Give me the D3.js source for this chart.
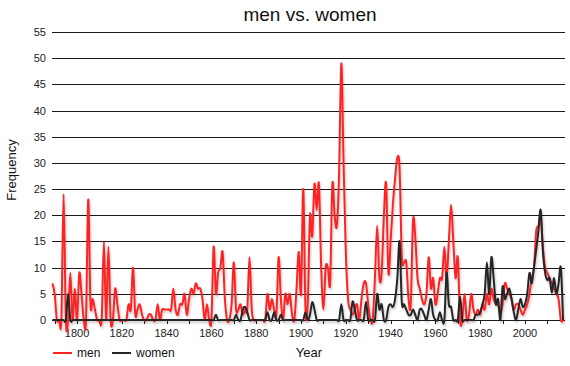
<!DOCTYPE html>
<html>
<head>
<meta charset="utf-8">
<script src="https://cdn.jsdelivr.net/npm/d3@7"></script>
<style>
  body { margin: 0; background: #fff; }
  svg { font-family: "Liberation Sans", Arial, sans-serif; }
</style>
</head>
<body>
<svg id="chart" width="570" height="366"></svg>
<script>
// yearly counts, first value is 1789
const firstYear = 1789

const men = [
  7, 5, 0, 0, 0, 24, 0, 0, 9, 0, 6,          // 1789-1799
  0, 9, 5, 0, 0, 23, 3, 4, 2, 0,             // 1800s
  0, 0, 15, 0, 14, 0, 0, 6, 3, 0,            // 1810s
  0, 0, 0, 3, 2, 10, 1, 2, 3, 1,             // 1820s
  0, 0, 1, 1, 0, 0, 3, 0, 2, 2,              // 1830s
  2, 2, 2, 6, 2, 1, 3, 3, 5, 1,              // 1840s
  4, 6, 5, 7, 6, 6, 4, 0, 3, 0,              // 1850s
  0, 14, 5, 9, 10, 13, 4, 0, 0, 3,           // 1860s
  11, 2, 2, 3, 1, 2, 2, 12, 2, 0,            // 1870s
  0, 0, 0, 0, 0, 5, 2, 4, 2, 1,              // 1880s
  12, 4, 0, 5, 3, 5, 1, 0, 6, 13,            // 1890s
  5, 25, 2, 3, 20, 16, 26, 21, 26, 10,       // 1900s
  2, 10, 10, 7, 26, 20, 18, 28, 49, 30,      // 1910s
  13, 4, 2, 1, 2, 3, 0, 4, 7, 7,             // 1920s
  3, 0, 0, 8, 18, 8, 9, 20, 26, 9,           // 1930s
  15, 22, 27, 31, 29, 12, 11, 11, 4, 3,      // 1940s
  19, 16, 8, 6, 4, 3, 5, 12, 6, 8,           // 1950s
  3, 5, 8, 8, 14, 8, 15, 22, 15, 8,          // 1960s
  12, 0, 0, 5, 0, 1, 5, 2, 1, 2,             // 1970s
  1, 3, 2, 5, 3, 6, 4, 3, 3, 1,              // 1980s
  3, 7, 6, 5, 4, 2, 3, 3, 2, 1,              // 1990s
  2, 3, 5, 8, 10, 17, 18, 20, 14, 10,        // 2000s
  9, 8, 7, 6, 5, 4, 0, 0                     // 2010-2017
]

const women = [
  0, 0, 0, 0, 0, 0, 0, 5, 0, 0, 0,           // 1789-1799
  0, 0, 0, 0, 0, 0, 0, 0, 0, 0,              // 1800s
  0, 0, 0, 0, 0, 0, 0, 0, 0, 0,              // 1810s
  0, 0, 0, 0, 0, 0, 0, 0, 0, 0,              // 1820s
  0, 0, 0, 0, 0, 0, 0, 0, 0, 0,              // 1830s
  0, 0, 0, 0, 0, 0, 0, 0, 0, 0,              // 1840s
  0, 0, 0, 0, 0, 0, 0, 0, 0, 0,              // 1850s
  0, 0, 1, 0, 0, 0, 0, 0, 0, 0,              // 1860s
  0, 1, 0, 0, 2, 2.5, 1.5, 0, 0, 0,          // 1870s
  0, 0, 0, 0, 0, 1.5, 0, 0, 1.5, 0,          // 1880s
  0, 1, 0, 0, 0, 0, 0, 0, 0, 0,              // 1890s
  0, 0, 1.5, 0, 1, 3.4, 2, 0, 0, 0,          // 1900s
  0, 0, 0, 0, 0, 0, 0, 0, 3, 0,              // 1910s
  0, 0, 0, 3.5, 2, 0, 0, 0, 0, 3.5,          // 1920s
  0, 0, 0, 0, 5, 2, 3, 0, 0, 2.5,            // 1930s
  3, 2.5, 4, 8, 15, 3.4, 3, 2, 1, 1,         // 1940s
  2, 1, 0, 2, 2, 1, 0, 2, 4, 1,              // 1950s
  0, 0, 1.5, 0, 0, 9, 3, 2.5, 0, 0,          // 1960s
  0, 4.5, 0, 0, 0, 0, 0, 0, 1, 1,            // 1970s
  1.5, 3, 5, 11, 5, 12, 8, 3, 4, 0,          // 1980s
  6.4, 4, 5, 6, 4, 1.5, 0, 2, 4, 2.5,        // 1990s
  3, 5, 9, 7, 10, 13.4, 17, 21, 13, 9,       // 2000s
  7.6, 8, 5.2, 8, 5, 7, 10, 0                // 2010-2017
]

const seriesNames = ['men', 'women']
const seriesColors = ['#ff2424', '#262626']
const yTicks = d3.range(0, 56, 5)
const xTicks = d3.range(1790, 2011, 10)
const xLabels = d3.range(1800, 2001, 20)

const svg = d3.select('#chart')

const x = d3.scaleLinear().domain([1789, 2018]).range([52.4, 565.3])
const y = d3.scaleLinear().domain([0, 55]).range([320, 32])
const left = 52, right = 565

// shadow under the lines
const defs = svg.append('defs')
defs.append('filter')
  .attr('id', 'shadow')
  .attr('x', '-5%').attr('y', '-5%').attr('width', '110%').attr('height', '115%')
  .append('feDropShadow')
  .attr('dx', 1).attr('dy', 2)
  .attr('stdDeviation', 1)
  .attr('flood-color', '#000')
  .attr('flood-opacity', 0.22)

// title
svg.append('text')
  .attr('x', 310).attr('y', 21)
  .attr('text-anchor', 'middle')
  .attr('font-size', 19)
  .attr('fill', '#111')
  .text('men vs. women')

// horizontal grid + y labels
svg.append('g')
  .selectAll('line')
  .data(yTicks)
  .enter().append('line')
  .attr('x1', left).attr('x2', right)
  .attr('y1', d => Math.round(y(d)) + 0.5)
  .attr('y2', d => Math.round(y(d)) + 0.5)
  .attr('stroke', '#1a1a1a')
  .attr('stroke-width', 1)

svg.append('g')
  .selectAll('text')
  .data(yTicks)
  .enter().append('text')
  .attr('x', 46)
  .attr('y', d => y(d) + 4)
  .attr('text-anchor', 'end')
  .attr('font-size', 11)
  .attr('fill', '#222')
  .text(d => d)

svg.append('text')
  .attr('transform', 'translate(16,170) rotate(-90)')
  .attr('text-anchor', 'middle')
  .attr('font-size', 13)
  .attr('fill', '#111')
  .text('Frequency')

// x axis ticks + labels
svg.append('g')
  .selectAll('line')
  .data(xTicks)
  .enter().append('line')
  .attr('x1', d => Math.round(x(d)) + 0.5)
  .attr('x2', d => Math.round(x(d)) + 0.5)
  .attr('y1', 320).attr('y2', 324)
  .attr('stroke', '#1a1a1a')

svg.append('g')
  .selectAll('text')
  .data(xLabels)
  .enter().append('text')
  .attr('x', d => x(d))
  .attr('y', 337)
  .attr('text-anchor', 'middle')
  .attr('font-size', 11)
  .attr('fill', '#222')
  .text(d => d)

svg.append('text')
  .attr('x', 309).attr('y', 357)
  .attr('text-anchor', 'middle')
  .attr('font-size', 13)
  .attr('fill', '#111')
  .text('Year')

// lines
const line = d3.line()
  .x((d, i) => x(firstYear + i))
  .y(d => y(d))
  .curve(d3.curveCardinal.tension(0))

const lineGroup = svg.append('g').attr('filter', 'url(#shadow)')
;[men, women].forEach((values, i) => {
  lineGroup.append('path')
    .datum(values)
    .attr('d', line)
    .attr('fill', 'none')
    .attr('stroke', seriesColors[i])
    .attr('stroke-width', 2)
    .attr('stroke-linejoin', 'round')
})

// legend
const legend = svg.append('g')
  .selectAll('g')
  .data(seriesNames)
  .enter().append('g')
  .attr('transform', (d, i) => `translate(${[53, 112][i]},353)`)

legend.append('line')
  .attr('x1', 0).attr('x2', 19)
  .attr('stroke', (d, i) => seriesColors[i])
  .attr('stroke-width', 2)

legend.append('text')
  .attr('x', 24).attr('y', 4)
  .attr('font-size', 12)
  .attr('fill', '#111')
  .text(d => d)
</script>
</body>
</html>
